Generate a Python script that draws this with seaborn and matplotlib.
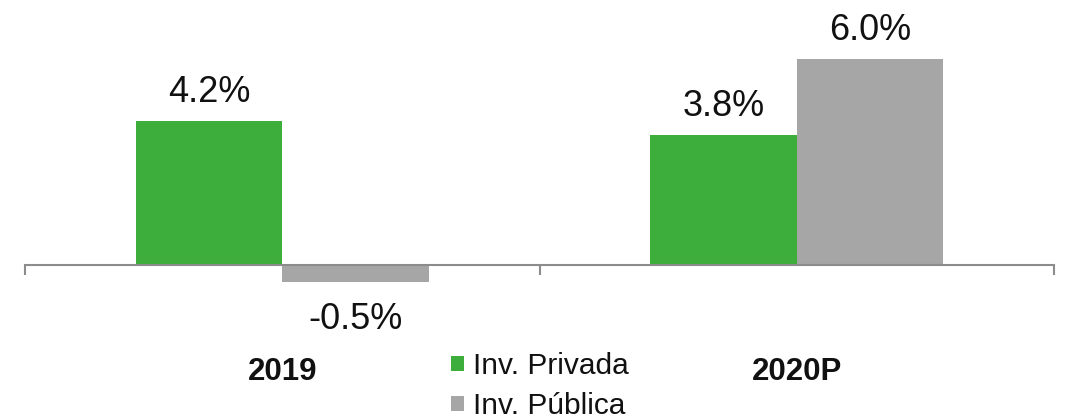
import pandas as pd
import matplotlib
matplotlib.use("Agg")
import matplotlib.pyplot as plt
import seaborn as sns

# chart data
years = ["2019", "2020P"]
series_names = ["Inv. Privada", "Inv. Pública"]
privada = [4.2, 3.8]
publica = [-0.5, 6.0]

df = pd.DataFrame({
    "Año": years * 2,
    "Serie": [series_names[0]] * 2 + [series_names[1]] * 2,
    "Valor": privada + publica,
})

sns.set_style("white")
plt.rcParams["font.family"] = ["Liberation Sans", "DejaVu Sans"]

colors = {"Inv. Privada": "#3DAE3B", "Inv. Pública": "#A6A6A6"}

fig = plt.figure(figsize=(10.65, 4.17), dpi=100)
ax = fig.add_axes([25 / 1065, 0, (1054 - 25) / 1065, 1])

sns.barplot(data=df, x="Año", y="Valor", hue="Serie", palette=colors,
            width=0.57, linewidth=0, saturation=1, ax=ax)

ax.set_xlim(-0.5, 1.5)
ax.set_ylim(-4.43, 7.73)

# value labels
for cont in ax.containers:
    for bar in cont:
        v = bar.get_height()
        x = bar.get_x() + bar.get_width() / 2
        if v >= 0:
            ax.annotate(f"{v:.1f}%", (x, v), xytext=(0, 8), textcoords="offset points",
                        ha="center", va="bottom", fontsize=26, color="#111111")
        else:
            ax.annotate(f"{v:.1f}%", (x, v), xytext=(0, -14), textcoords="offset points",
                        ha="center", va="top", fontsize=26, color="#111111")

# axis at zero with ticks between categories
for s in ["top", "right", "left"]:
    ax.spines[s].set_visible(False)
ax.spines["bottom"].set_position(("data", 0))
ax.spines["bottom"].set_color("#8C8C8C")
ax.spines["bottom"].set_linewidth(1.5)
ax.set_xticks([-0.5, 0.5, 1.5])
ax.set_xticklabels([])
ax.tick_params(axis="x", bottom=True, direction="out", length=7, width=1.5, color="#8C8C8C")
ax.set_yticks([])
ax.set_xlabel("")
ax.set_ylabel("")

for i, yr in enumerate(years):
    ax.text(i, -3.12, yr, ha="center", va="center", fontsize=22.5,
            fontweight="bold", color="#111111")

handles, labels = ax.get_legend_handles_labels()
if ax.get_legend() is not None:
    ax.get_legend().remove()
fig.legend(handles, labels, loc="upper center", bbox_to_anchor=(540 / 1065, 1 - 352 / 417),
           frameon=False, fontsize=21.5, handlelength=0.42, handleheight=0.42,
           handletextpad=0.3, labelspacing=0.4, borderpad=0, borderaxespad=0,
           labelcolor="#111111")

fig.savefig("out.png", dpi=100)
